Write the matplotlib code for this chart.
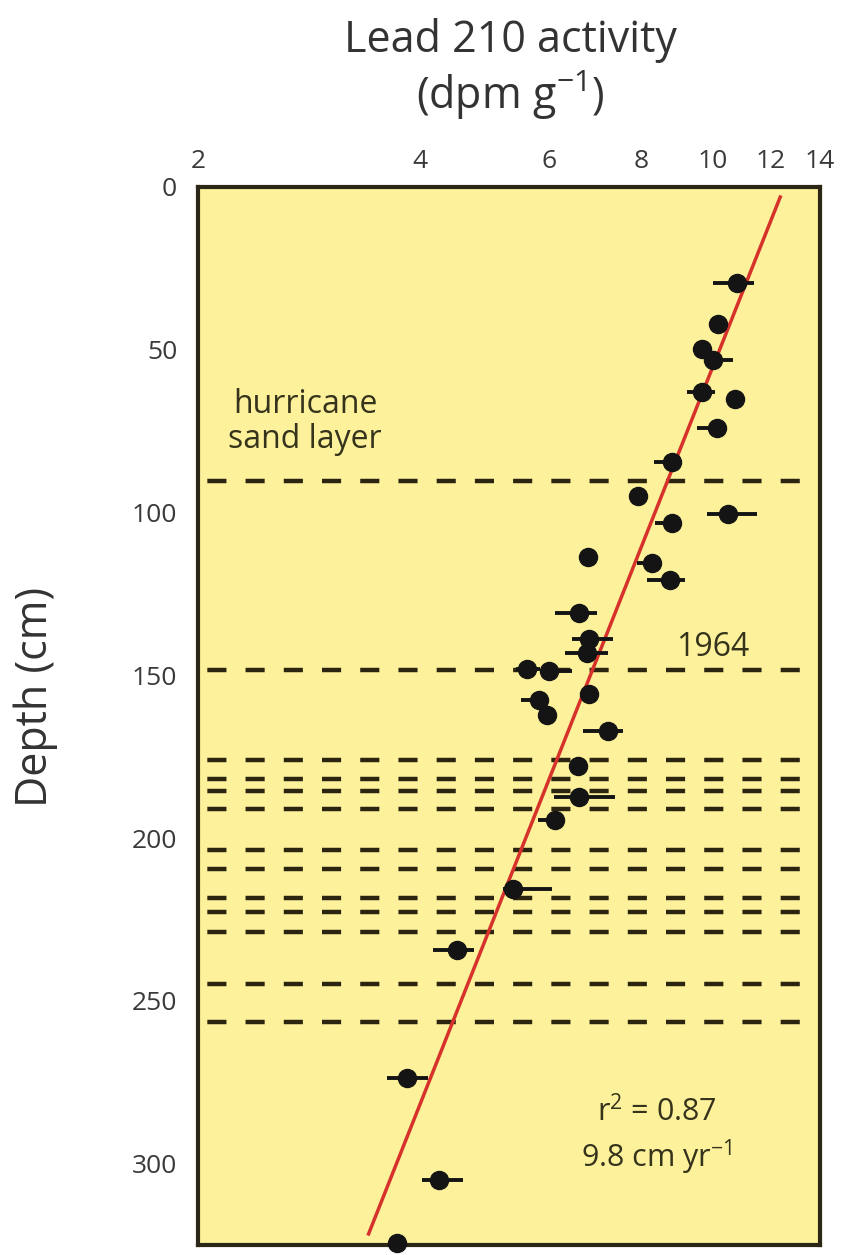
import numpy as np
import matplotlib
matplotlib.use("Agg")
import matplotlib.pyplot as plt

plt.rcParams['font.family'] = ['Open Sans', 'DejaVu Sans']
plt.rcParams['mathtext.fontset'] = 'custom'
plt.rcParams['mathtext.rm'] = 'Open Sans'
plt.rcParams['mathtext.default'] = 'regular'

# measured points: depth (cm) and lead 210 activity (dpm/g)
depth_cm = [29.5, 42.1, 49.8, 53.2, 63.0, 65.2, 74.1, 84.6, 95.0, 100.6,
            103.3, 113.8, 115.6, 120.8, 131.0, 139.0, 143.3, 148.2, 148.8, 155.6,
            157.7, 162.1, 167.0, 178.0, 187.3, 194.6, 215.6, 234.3, 273.7, 305.0,
            324.4]
activity = [10.80, 10.18, 9.68, 10.02, 9.68, 10.73, 10.14, 8.81, 7.92, 10.50,
            8.81, 6.78, 8.28, 8.76, 6.59, 6.80, 6.76, 5.60, 6.00, 6.80,
            5.81, 5.96, 7.21, 6.57, 6.59, 6.11, 5.36, 4.50, 3.85, 4.25,
            3.73]
nan = np.nan
bar_lo = [10.02, nan, nan, 9.80, 9.24, nan, 9.53, 8.33, nan, 9.83,
          8.36, nan, 7.90, 8.15, 6.11, 6.45, 6.31, 5.41, 5.83, nan,
          5.49, nan, 6.67, nan, 6.09, 5.79, 5.19, 4.17, 3.61, 4.03,
          nan]
bar_hi = [11.39, nan, nan, 10.67, 10.08, nan, 10.40, 9.09, nan, 11.50,
          9.04, nan, 8.45, 9.18, 6.97, 7.33, 7.21, 5.83, 6.45, nan,
          6.00, nan, 7.56, nan, 7.37, 6.30, 6.05, 4.74, 4.11, 4.58,
          nan]

# regression line end points
fit_depth = [3.1, 321.6]
fit_activity = [12.36, 3.41]

# sand layer depths (dashed lines)
sand_layers = [90.4, 148.5, 175.9, 181.8, 185.7, 191.0, 203.6, 209.4,
               218.3, 222.6, 228.8, 244.8, 256.5]

x_ticks = [2, 4, 6, 8, 10, 12, 14]
y_ticks = [0, 50, 100, 150, 200, 250, 300]

act = np.array(activity)
lo = np.nan_to_num(act - np.array(bar_lo))
hi = np.nan_to_num(np.array(bar_hi) - act)

fig = plt.figure(figsize=(8.42, 12.55), dpi=100)
ax = fig.add_axes([0.2352, 0.008, 0.7387, 0.843])
ax.set_facecolor('#fdf29b')

for d in sand_layers:
    ax.axhline(d, xmax=0.985, color='#2a2410', lw=3.2,
               linestyle=(6.5, (4.3, 4.3)), zorder=1)

ax.plot(fit_activity, fit_depth, color='#d6322b', lw=2.5, zorder=2)

ax.errorbar(activity, depth_cm, xerr=[lo, hi], fmt='o', color='#141414',
            ms=13, elinewidth=2.8, capsize=0, zorder=3, clip_on=False)

ax.set_xscale('log')
ax.set_xlim(2, 14)
ax.set_ylim(325, 0)
ax.xaxis.tick_top()
ax.set_xticks(x_ticks)
ax.set_xticklabels([str(v) for v in x_ticks])
ax.xaxis.set_minor_locator(matplotlib.ticker.NullLocator())
ax.set_yticks(y_ticks)
ax.set_yticklabels([str(v) for v in y_ticks])
ax.tick_params(axis='x', length=0, pad=9, labelsize=19, colors='#3a3a3a')
ax.tick_params(axis='y', length=0, pad=15, labelsize=19, colors='#3a3a3a')
for s in ax.spines.values():
    s.set_linewidth(3)
    s.set_color('#2b2615')

txt = '#35331c'
ax.text(0.172, 0.778, 'hurricane\nsand layer', transform=ax.transAxes,
        ha='center', va='center', fontsize=23, color=txt, linespacing=1.1)
ax.text(0.828, 0.565, '1964', transform=ax.transAxes,
        ha='center', va='center', fontsize=23, color=txt)
ax.text(0.738, 0.126, 'r$^{2}$ = 0.87', transform=ax.transAxes,
        ha='center', va='center', fontsize=22, color=txt)
ax.text(0.738, 0.083, '9.8 cm yr$^{-1}$', transform=ax.transAxes,
        ha='center', va='center', fontsize=22, color=txt)

fig.text(0.606, 0.968, 'Lead 210 activity', ha='center', va='center',
         fontsize=31, color='#333333')
fig.text(0.606, 0.924, '(dpm g$^{-1}$)', ha='center', va='center',
         fontsize=31, color='#333333')
fig.text(0.042, 0.445, 'Depth (cm)', rotation=90, ha='center', va='center',
         fontsize=31, color='#333333')

fig.savefig('out.png', dpi=100)
